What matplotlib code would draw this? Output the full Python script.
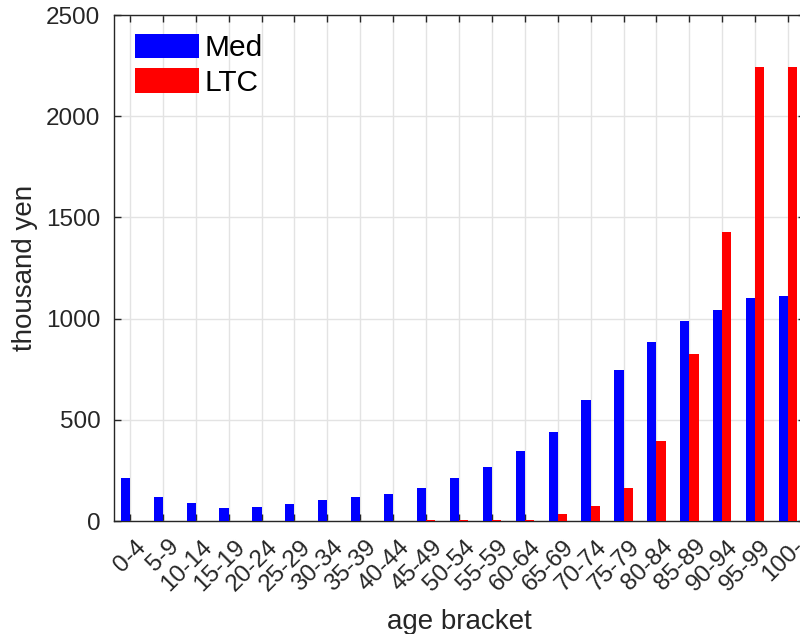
import matplotlib
matplotlib.use("Agg")
import matplotlib.pyplot as plt
import matplotlib.transforms as mtransforms
import numpy as np

plt.rcParams['font.family'] = ['Liberation Sans', 'DejaVu Sans']

categories = ["0-4", "5-9", "10-14", "15-19", "20-24", "25-29", "30-34", "35-39",
              "40-44", "45-49", "50-54", "55-59", "60-64", "65-69", "70-74",
              "75-79", "80-84", "85-89", "90-94", "95-99", "100-"]
med = [211, 117, 87, 66, 68, 86, 104, 117, 132, 163, 211, 268, 346, 438, 598,
       744, 884, 988, 1042, 1103, 1111]
ltc = [0, 0, 0, 0, 0, 0, 0, 1, 2, 3, 3, 3, 4, 33, 74, 163, 394, 825, 1430, 2243, 2243]

W, H = 800, 634
fig = plt.figure(figsize=(W / 100, H / 100), dpi=100)
left, right, top, bottom = 113.5, 804.5, 15, 521
ax = fig.add_axes([left / W, 1 - bottom / H, (right - left) / W, (bottom - top) / H])

x = np.arange(1, len(categories) + 1)
bw = 0.28
ax.bar(x - bw / 2, med, width=bw, color='#0000ff', label='Med', zorder=3)
ax.bar(x + bw / 2, ltc, width=bw, color='#ff0000', label='LTC', zorder=3)

ax.set_xlim(0.5, len(categories) + 0.5)
ax.set_ylim(0, 2500)
ax.set_yticks([0, 500, 1000, 1500, 2000, 2500])
ax.set_xticks(x)
ax.set_xticklabels(categories, rotation=45, ha='right', rotation_mode='anchor')

ax.grid(True, color='#e3e3e3', linewidth=1, zorder=0)
ax.set_axisbelow(True)
for s in ax.spines.values():
    s.set_color('#262626')
    s.set_linewidth(1)
ax.tick_params(direction='in', length=5, width=1, color='#262626', labelcolor='#262626',
               labelsize=17.5, top=True, right=True)
ax.tick_params(axis='y', pad=9.5)
ax.tick_params(axis='x', pad=4)

offset = mtransforms.ScaledTranslation(5 / 100, -9 / 100, fig.dpi_scale_trans)
for lab in ax.get_xticklabels():
    lab.set_transform(lab.get_transform() + offset)

ax.set_xlabel('age bracket', fontsize=20, color='#262626', labelpad=10)
ax.set_ylabel('thousand yen', fontsize=20, color='#262626', labelpad=6)

leg = ax.legend(loc='upper left', bbox_to_anchor=(135 / W, 1 - 34 / H),
                bbox_transform=fig.transFigure, frameon=False, fontsize=21.5,
                handlelength=2.14, handleheight=0.87, handletextpad=0.2,
                labelspacing=0.2, borderpad=0, borderaxespad=0)

fig.savefig('out.png', dpi=100)
